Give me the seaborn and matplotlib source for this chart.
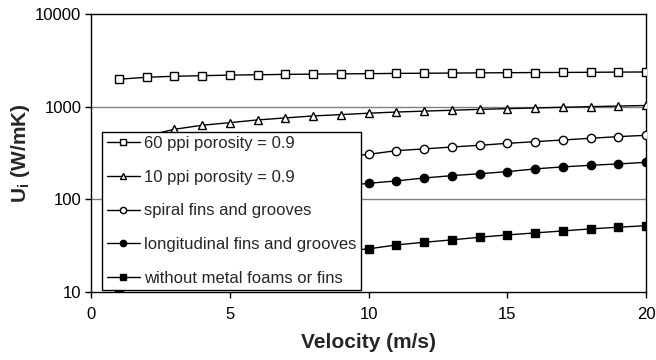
import numpy as np
import pandas as pd
import matplotlib
matplotlib.use("Agg")
import matplotlib.pyplot as plt
import seaborn as sns

velocity = list(range(1, 21))
ppi60 = [1977, 2076, 2128, 2160, 2190, 2210, 2230, 2245, 2260, 2270,
         2285, 2295, 2305, 2315, 2325, 2335, 2340, 2350, 2360, 2367]
ppi10 = [350, 483, 570, 630, 672, 719, 756, 794, 821, 850,
         875, 895, 915, 935, 952, 968, 985, 1000, 1015, 1030]
spiral = [64, 102, 135, 164, 191, 216, 240, 263, 285, 306,
          335, 350, 367, 383, 402, 419, 437, 456, 475, 491]
longitudinal = [27, 45, 60, 75, 89, 102, 115, 126, 138, 149,
                158, 170, 180, 189, 199, 213, 224, 233, 241, 251]
without = [11, 13, 15.5, 17.5, 19.5, 21.5, 23.5, 25.5, 27.5, 29.2,
           32.2, 34.4, 36.5, 39.0, 41.3, 43.4, 45.6, 48.0, 50.0, 52.0]

labels = ["60 ppi porosity = 0.9", "10 ppi porosity = 0.9",
          "spiral fins and grooves", "longitudinal fins and grooves",
          "without metal foams or fins"]
series = [ppi60, ppi10, spiral, longitudinal, without]
markers = ["s", "^", "o", "o", "s"]
faces = ["white", "white", "white", "black", "black"]

sns.set_style("white")
plt.rcParams["font.family"] = ["Liberation Sans", "DejaVu Sans"]

fig = plt.figure(figsize=(6.56, 3.6), dpi=100)
ax = fig.add_axes([91/656, 1-292/360, 555/656, 278/360])

for lab, vals, mk, fc in zip(labels, series, markers, faces):
    df = pd.DataFrame({"v": velocity, "u": vals})
    sns.lineplot(data=df, x="v", y="u", ax=ax, color="black", lw=1,
                 marker=mk, markerfacecolor=fc, markeredgecolor="black",
                 markeredgewidth=1, markersize=6, label=lab, zorder=3)

ax.set_yscale("log")
ax.set_ylim(10, 10000)
ax.set_xlim(0, 20)
ax.set_xticks([0, 5, 10, 15, 20])
ax.set_yticks([10, 100, 1000, 10000])
ax.set_yticklabels(["10", "100", "1000", "10000"])
ax.yaxis.set_minor_locator(matplotlib.ticker.NullLocator())
for yv in [100, 1000]:
    ax.axhline(yv, color="#808080", lw=1, zorder=1)
for s in ax.spines.values():
    s.set_color("black")
    s.set_linewidth(1)
ax.tick_params(axis="both", direction="out", length=4, width=1,
               colors="black", labelsize=12, bottom=True, left=True)
ax.tick_params(axis="x", pad=7)
ax.tick_params(axis="y", pad=3)
ax.set_xlabel("Velocity (m/s)", fontsize=15, fontweight="bold", labelpad=8)
ax.set_ylabel("U$_\\mathregular{i}$ (W/mK)", fontsize=15, fontweight="bold", labelpad=2)

leg = ax.legend(loc="lower left", bbox_to_anchor=(0.0205, 0.0072),
                borderaxespad=0, frameon=True, fancybox=False, fontsize=12,
                handlelength=2.0, handletextpad=0.25, labelspacing=1.12,
                borderpad=0.25, markerscale=0.75)
leg.get_frame().set_edgecolor("black")
leg.get_frame().set_linewidth(1)
leg.get_frame().set_alpha(1)
leg.set_zorder(5)

fig.savefig("out.png", dpi=100)
